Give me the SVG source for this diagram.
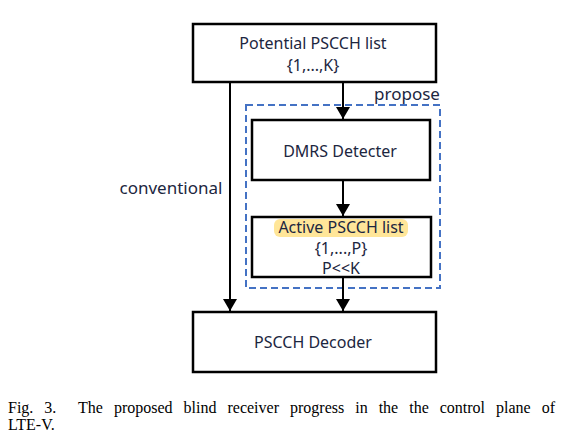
<svg xmlns="http://www.w3.org/2000/svg" width="562" height="446" viewBox="0 0 562 446">
<defs>
<style>
.box{fill:#fff;stroke:#000;stroke-width:2.5}
.lbl{font-family:"Noto Sans","Open Sans",sans-serif;font-size:16px;fill:#1c2640;text-anchor:middle}
.edge{stroke:#000;stroke-width:2;fill:none}
.cap{font-family:"Liberation Serif",serif;font-size:16px;fill:#000}
</style>
<marker id="ah2" viewBox="0 0 12 14" refX="12" refY="7" markerWidth="12" markerHeight="14" markerUnits="userSpaceOnUse" orient="auto">
<path d="M0,0 L12,7 L0,14 z" fill="#000"/>
</marker>
</defs>
<rect width="562" height="446" fill="#fff"/>
<g id="propose-region">
<rect x="246" y="105" width="194" height="183" fill="none" stroke="#4472c4" stroke-width="2" stroke-dasharray="7,4"/>
<text class="lbl" x="407" y="100" style="font-size:17px">propose</text>
</g>
<g id="connectors">
<line class="edge" x1="343" y1="83" x2="343" y2="119" marker-end="url(#ah2)"/>
<line class="edge" x1="343" y1="181" x2="343" y2="216" marker-end="url(#ah2)"/>
<line class="edge" x1="343" y1="278" x2="343" y2="311" marker-end="url(#ah2)"/>
<line class="edge" x1="230" y1="83" x2="230" y2="311" marker-end="url(#ah2)"/>
<text class="lbl" x="171" y="194" style="font-size:17px">conventional</text>
</g>
<g id="potential">
<rect class="box" x="193" y="24" width="243" height="58"/>
<text class="lbl" x="313" y="49">Potential PSCCH list</text>
<text class="lbl" x="313" y="71">{1,...,K}</text>
</g>
<g id="dmrs">
<rect class="box" x="252" y="120" width="178" height="60"/>
<text class="lbl" x="340" y="157">DMRS Detecter</text>
</g>
<g id="active">
<rect class="box" x="252" y="217" width="179" height="60"/>
<rect x="274" y="219" width="134" height="18" rx="6" fill="#ffe699"/>
<text class="lbl" x="341" y="233">Active PSCCH list</text>
<text class="lbl" x="341" y="254">{1,...,P}</text>
<text class="lbl" x="341" y="274">P&lt;&lt;K</text>
</g>
<g id="decoder">
<rect class="box" x="193" y="312" width="243" height="60"/>
<text class="lbl" x="313" y="348">PSCCH Decoder</text>
</g>
<g id="caption">
<text class="cap" x="8" y="413" word-spacing="7" xml:space="preserve">Fig. 3.  The proposed blind receiver progress in the the control plane of</text>
<text class="cap" x="8" y="430">LTE-V.</text>
</g>
</svg>
